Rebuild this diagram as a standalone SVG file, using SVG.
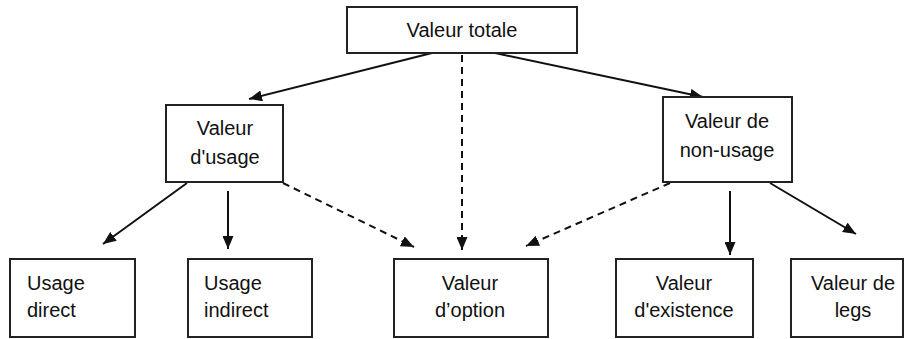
<svg xmlns="http://www.w3.org/2000/svg" width="912" height="339" viewBox="0 0 912 339">
<defs>
<marker id="ah" viewBox="0 0 13 11" refX="13" refY="5.5" markerWidth="13" markerHeight="11" markerUnits="userSpaceOnUse" orient="auto">
<path d="M0,0 L13,5.5 L0,11 Z" fill="#111"/>
</marker>
</defs>
<style>
.box{fill:#fff;stroke:#222;stroke-width:2}
.t{font-family:"Liberation Sans",Arial,sans-serif;font-size:20px;fill:#111}
.c{text-anchor:middle}
.ln{stroke:#111;stroke-width:2;fill:none;marker-end:url(#ah)}
.d{stroke-dasharray:7,5}
</style>
<rect width="912" height="339" fill="#fff"/>
<g id="connectors">
<line class="ln" x1="432" y1="53" x2="249" y2="99"/>
<line class="ln" x1="495" y1="53" x2="703" y2="97"/>
<line class="ln d" x1="462" y1="55" x2="462" y2="250"/>
<line class="ln" x1="187" y1="183" x2="103" y2="244"/>
<line class="ln" x1="228" y1="191" x2="228" y2="249"/>
<line class="ln d" x1="283" y1="183" x2="414" y2="247"/>
<line class="ln d" x1="670" y1="183" x2="526" y2="246"/>
<line class="ln" x1="730" y1="191" x2="730" y2="255"/>
<line class="ln" x1="770" y1="183" x2="856" y2="234"/>
</g>
<g id="valeur-totale">
<rect class="box" x="347" y="7" width="230" height="46"/>
<text class="t c" x="462" y="37">Valeur totale</text>
</g>
<g id="valeur-usage">
<rect class="box" x="166" y="105" width="117" height="77"/>
<text class="t c" x="225" y="135">Valeur</text>
<text class="t c" x="225" y="164">d'usage</text>
</g>
<g id="valeur-non-usage">
<rect class="box" x="663" y="97" width="129" height="85"/>
<text class="t c" x="727" y="128">Valeur de</text>
<text class="t c" x="727" y="157">non-usage</text>
</g>
<g id="usage-direct">
<rect class="box" x="10" y="259" width="125" height="78"/>
<text class="t" x="27" y="290">Usage</text>
<text class="t" x="27" y="317">direct</text>
</g>
<g id="usage-indirect">
<rect class="box" x="188" y="259" width="124" height="78"/>
<text class="t" x="204" y="290">Usage</text>
<text class="t" x="204" y="317">indirect</text>
</g>
<g id="valeur-option">
<rect class="box" x="394" y="259" width="154" height="78"/>
<text class="t c" x="470" y="290">Valeur</text>
<text class="t c" x="470" y="317">d’option</text>
</g>
<g id="valeur-existence">
<rect class="box" x="616" y="259" width="137" height="78"/>
<text class="t c" x="684" y="290">Valeur</text>
<text class="t c" x="684" y="317">d'existence</text>
</g>
<g id="valeur-legs">
<rect class="box" x="791" y="259" width="112" height="78"/>
<text class="t c" x="853" y="290">Valeur de</text>
<text class="t c" x="853" y="317">legs</text>
</g>
</svg>
